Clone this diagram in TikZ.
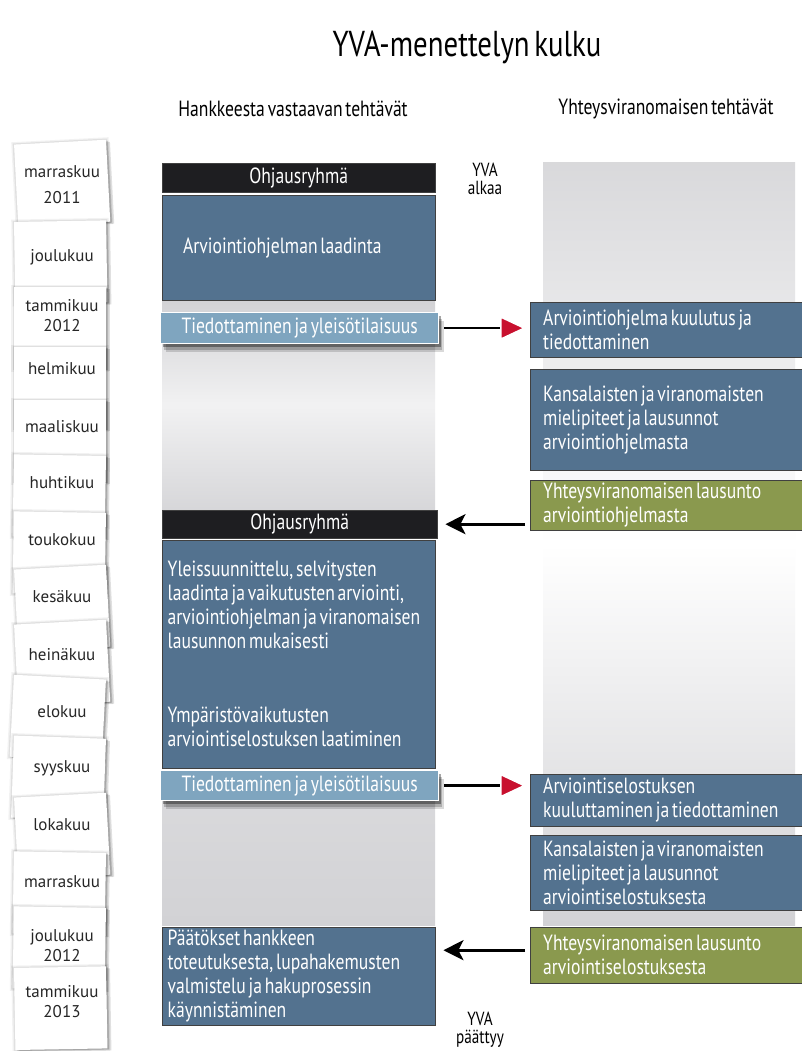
\documentclass[tikz,border=0pt]{standalone}
\usepackage{fontspec}
\setmainfont{PT Sans}
\newfontfamily\narrowfont[FakeStretch=0.8, WordSpace=0.6]{PT Sans}
\usetikzlibrary{arrows.meta, positioning, shadows}
\definecolor{cBlue}{RGB}{83,114,143}
\definecolor{cPale}{RGB}{127,165,191}
\definecolor{cOlive}{RGB}{138,153,78}
\definecolor{cNight}{RGB}{30,30,33}
\definecolor{cRed}{RGB}{200,16,46}
\definecolor{cGrayBg}{RGB}{210,210,213}
\tikzset{
	task/.style     ={rectangle, anchor=north west, draw=black!75, fill=cBlue, text=white, align=flush left, inner ysep=0pt,
		font=\narrowfont\fontsize{22}{24}\selectfont},
	group/.style    ={task, fill=cNight, align=center, minimum width=273pt},
	inform/.style   ={task, fill=cPale, draw=white, line width=1.2pt, align=center, minimum width=278pt,
		general shadow={fill=black, shadow xshift=5pt, shadow yshift=-8pt, opacity=.15},
		general shadow={fill=black, shadow xshift=3pt, shadow yshift=-6pt, opacity=.2},
		general shadow={fill=black, shadow xshift=2pt, shadow yshift=-3pt, opacity=.35}},
	statement/.style={task, fill=cOlive},
	card/.style     ={rectangle, fill=white, minimum width=92pt, minimum height=82pt, anchor=north,
		general shadow={fill=black, shadow scale=1.06, opacity=.05},
		general shadow={fill=black, shadow scale=1.03, opacity=.07},
		general shadow={fill=black, shadow xshift=4pt, shadow yshift=-2pt, opacity=.12},
		general shadow={fill=black, shadow xshift=2pt, shadow yshift=-1pt, opacity=.15}},
	month/.style    ={align=center, text=black!85, font=\fontsize{17}{20}\selectfont},
	note/.style     ={align=center, font=\narrowfont\fontsize{19}{18}\selectfont},
	tellarrow/.style={-{Triangle[length=26pt, width=24pt, fill=cRed, color=white, line width=1.5pt]}, line width=2.5pt},
	backarrow/.style={-{Stealth[length=20pt, width=20pt, inset=5pt]}, line width=3pt},
}
\begin{document}
\begin{tikzpicture}[x=1pt, y=-1pt]
	\useasboundingbox[fill=white] (0,0) rectangle (802,1051);
	% headings
	\node[font=\narrowfont\fontsize{36}{40}\selectfont] (title) at (467,47) {YVA-menettelyn kulku};
	\node[font=\narrowfont\fontsize{22}{24}\selectfont] (hLeft) at (293,109) {Hankkeesta vastaavan tehtävät};
	\node[font=\narrowfont\fontsize{22}{24}\selectfont] (hRight) at (666,109) {Yhteysviranomaisen tehtävät};
	% grey bands
	\shade[top color=cGrayBg!85!white, bottom color=cGrayBg, middle color=white] (543,163) rectangle (795,925);
	\shade[top color=cGrayBg, bottom color=cGrayBg!90!white, middle color=cGrayBg!30!white] (162,300) rectangle (435,510);
	\shade[top color=cGrayBg!85!white, bottom color=cGrayBg] (162,800) rectangle (435,925);
	% left column
	\node[group, minimum height=29pt] (grp1) at (162,163) {Ohjausryhmä};
	\node[task, minimum height=105pt, text width=231pt, inner xsep=21pt] (laad) at (162,195) {Arviointiohjelman laadinta};
	\node[inform, minimum height=31pt] (info1) at (160,312) {Tiedottaminen ja yleisötilaisuus};
	\node[group, minimum height=28pt, minimum width=275pt] (grp2) at (162,510) {Ohjausryhmä};
	\node[task, minimum height=228pt, text width=262pt, inner xsep=5.5pt] (yleis) at (162,540)
		{Yleissuunnittelu, selvitysten\\laadinta ja vaikutusten arviointi,\\arviointiohjelman ja viranomaisen\\lausunnon mukaisesti\\[50pt]Ympäristövaikutusten\\arviointiselostuksen laatiminen};
	\node[inform, minimum height=30pt] (info2) at (160,770) {Tiedottaminen ja yleisötilaisuus};
	\node[task, minimum height=98pt, text width=262pt, inner xsep=5.5pt] (paat) at (162,927)
		{Päätökset hankkeen\\toteutuksesta, lupahakemusten\\valmistelu ja hakuprosessin\\käynnistäminen};
	% right column
	\node[task, minimum height=55pt, text width=248pt, inner xsep=13pt] (kuul1) at (530,302) {Arviointiohjelma kuulutus ja\\tiedottaminen};
	\node[task, minimum height=101pt, text width=248pt, inner xsep=13pt] (kans1) at (530,369) {Kansalaisten ja viranomaisten\\mielipiteet ja lausunnot\\arviointiohjelmasta};
	\node[statement, minimum height=50pt, text width=248pt, inner xsep=13pt] (laus1) at (530,480) {Yhteysviranomaisen lausunto\\arviointiohjelmasta};
	\node[task, minimum height=52pt, text width=248pt, inner xsep=13pt] (kuul2) at (530,774) {Arviointiselostuksen\\kuuluttaminen ja tiedottaminen};
	\node[task, minimum height=75pt, text width=248pt, inner xsep=13pt] (kans2) at (530,835) {Kansalaisten ja viranomaisten\\mielipiteet ja lausunnot\\arviointiselostuksesta};
	\node[statement, minimum height=56pt, text width=248pt, inner xsep=13pt] (laus2) at (530,927) {Yhteysviranomaisen lausunto\\arviointiselostuksesta};
	% start and end
	\node[note] (alkaa) at (485,179) {YVA\\alkaa};
	\node[note] (paattyy) at (480,1030) {YVA\\päättyy};
	% arrows
	\draw[tellarrow] ([xshift=5pt]info1.east) -- ([xshift=-4pt]kuul1.west |- info1.east);
	\draw[tellarrow] ([xshift=5pt]info2.east) -- ([xshift=-4pt]kuul2.west |- info2.east);
	\draw[backarrow] ([xshift=-5pt]laus1.west |- grp2.east) -- ([xshift=8pt]grp2.east);
	\coordinate (back2) at ([yshift=5pt]laus2.west);
	\draw[backarrow] ([xshift=-5pt]back2) -- ([xshift=8pt]paat.east |- back2);
	% month cards
	\foreach \cy/\ty/\ca/\ct [count=\i] in {142/185/3/{marraskuu\\[6pt]2011}, 221/257/1/joulukuu, 287/316/0/{tammikuu\\2012},
			347/369/0/helmikuu, 400/427/0/maaliskuu, 455/483/-1/huhtikuu, 512/540/-1/toukokuu, 567/597/3/kesäkuu,
			622/655/3/heinäkuu, 677/712/-3/elokuu, 737/768/-2/syyskuu, 795/825/3/lokakuu, 852/882/-1/marraskuu,
			907/946/-1/{joulukuu\\2012}, 967/1002/1/{tammikuu\\2013}} {
		\node[card, rotate=\ca] (card\i) at (60,\cy) {};
		\node[month] (mon\i) at (62,\ty) {\ct};
	}
\end{tikzpicture}
\end{document}
